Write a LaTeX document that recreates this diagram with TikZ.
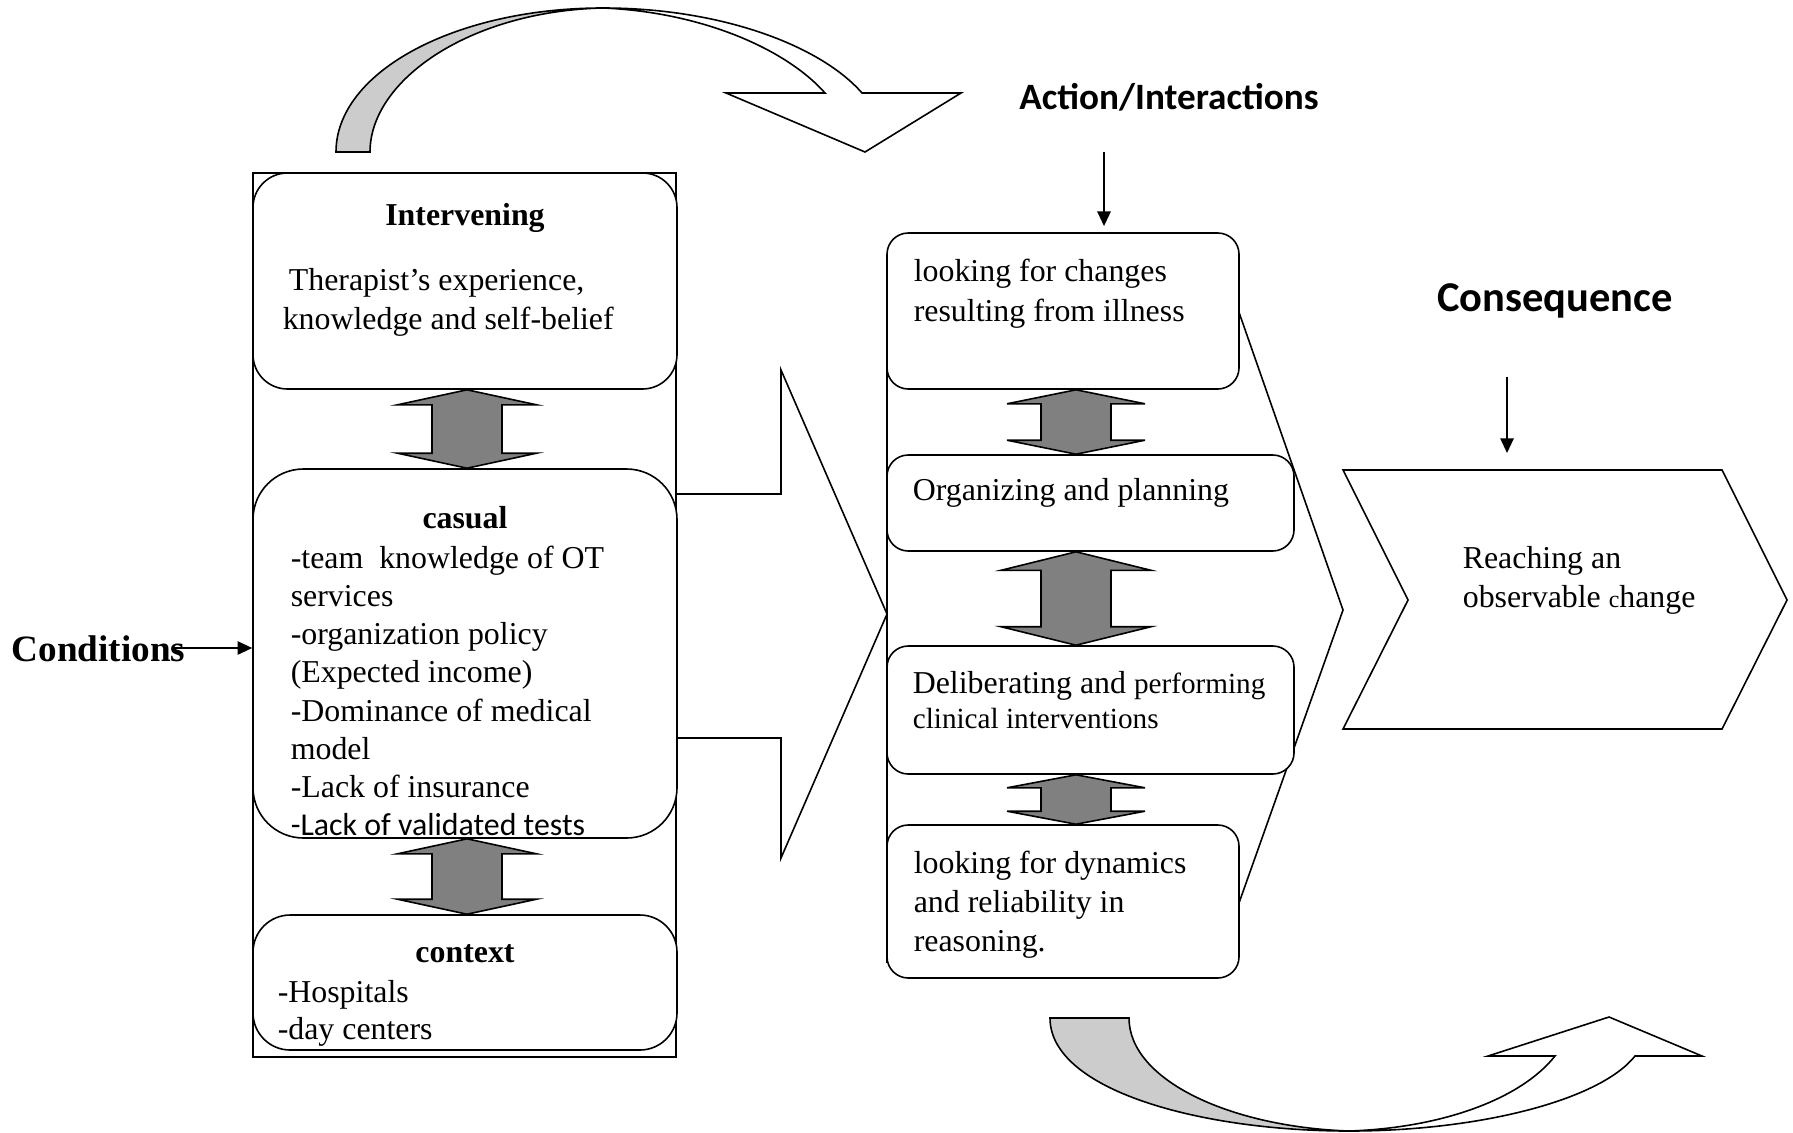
\documentclass[tikz,border=0pt]{standalone}
\usepackage{fontspec}
\setmainfont{Liberation Serif}
\newfontfamily\calibri{Carlito}
\usepackage{tikz}
\usetikzlibrary{arrows.meta,positioning,calc}

% one pixel of the layout
\newcommand{\px}{0.3766pt}
% grey two-headed block arrow between two stacked boxes
\newcommand{\twoway}[5]{%
  \draw[twoarrow] let \p1=(#2.south), \p2=(#3.north), \p3=(#1,0) in
    (\x3,\y1) -- ({\x3+#4*\px},{\y1-#5*\px}) -- ({\x3+35*\px},{\y1-#5*\px})
    -- ({\x3+35*\px},{\y2+#5*\px}) -- ({\x3+#4*\px},{\y2+#5*\px}) -- (\x3,\y2)
    -- ({\x3-#4*\px},{\y2+#5*\px}) -- ({\x3-35*\px},{\y2+#5*\px})
    -- ({\x3-35*\px},{\y1-#5*\px}) -- ({\x3-#4*\px},{\y1-#5*\px}) -- cycle;}

\begin{document}
\begin{tikzpicture}[x=0.3766pt, y=-0.3766pt, line width=0.6pt,
    stage/.style={draw, fill=white, rounded corners=#1, inner sep=0pt},
    note/.style={inner sep=0pt, align=left, anchor=north west},
    boxtitle/.style={inner sep=0pt, anchor=base, font=\fontsize{12}{14}\selectfont\bfseries},
    leadto/.style={-{Triangle[length=5.5pt,width=5pt]}, line width=0.7pt},
    twoarrow/.style={draw, fill=gray, line width=0.6pt},
    ribbon/.style={draw, line width=0.6pt}]
    \useasboundingbox (0,0) rectangle (1793,1132);

    % Curved sweeps
    \draw[ribbon, fill=gray!40] (336,152) .. controls (336,72) and (455,8) .. (603,8)
        .. controls (470,11) and (370,80) .. (370,152) -- cycle;
    \draw[ribbon, fill=white] (603,8) .. controls (720,8) and (820,45) .. (862,93)
        -- (961,93) -- (865,152) -- (726,93) -- (825,93)
        .. controls (785,48) and (700,12) .. (603,8) -- cycle;
    \draw[ribbon, fill=gray!40] (1050,1018) .. controls (1050,1090) and (1200,1131) .. (1349,1131)
        .. controls (1230,1127) and (1129,1080) .. (1129,1018) -- cycle;
    \draw[ribbon, fill=white] (1349,1131) .. controls (1480,1131) and (1600,1100) .. (1635,1056)
        -- (1702,1056) -- (1609,1017) -- (1488,1056) -- (1555,1056)
        .. controls (1520,1100) and (1440,1128) .. (1349,1131) -- cycle;

    % Conditions
    \draw[fill=white] (600,494) -- (781,494) -- (781,370) -- (887,614) -- (781,858) -- (781,738) -- (600,738);
    \node[draw, fill=white, inner sep=0pt, minimum width=423*\px, minimum height=884*\px] (condframe) at (464.5,615) {};
    \node[stage=13pt, minimum width=424*\px, minimum height=216*\px] (int) at (465,281) {};
    \node[stage=19pt, minimum width=424*\px, minimum height=369*\px] (cas) at (465,653.5) {};
    \node[stage=14pt, minimum width=424*\px, minimum height=135*\px] (ctx) at (465,982.5) {};

    \node[boxtitle] (tint) at (465,225) {Intervening};
    \node[note, font=\fontsize{12}{14.7}\selectfont] (xint) at (282,268)
        {\hspace{2.3pt}Therapist’s experience,\\knowledge and self-belief};
    \node[boxtitle] (tcas) at (465,528) {casual};
    \node[note, font=\fontsize{12}{14.4}\selectfont] (xcas) at (290,545)
        {-team\ \ knowledge of OT\\services\\-organization policy\\(Expected income)\\-Dominance of medical\\model\\-Lack of insurance\\{\calibri -Lack of validated tests}};
    \node[boxtitle] (tctx) at (465,962) {context};
    \node[note, font=\fontsize{12}{13.9}\selectfont] (xctx) at (277,980) {-Hospitals\\-day centers};

    \twoway{467}{int}{cas}{69.5}{15}
    \twoway{467}{cas}{ctx}{69.5}{15}

    \node[anchor=base west, inner sep=0pt, font=\fontsize{14}{16}\selectfont\bfseries] (cond) at (11,661) {Conditions};
    \coordinate (condstart) at (173,648);
    \draw[leadto] (condstart) -- (condstart -| condframe.west);

    % Action/Interactions
    \draw[fill=white] (887,258) -- (1220,258) -- (1343,610) -- (1218,962) -- (887,962) -- cycle;
    \node[stage=8pt, minimum width=352*\px, minimum height=156*\px] (a1) at (1063,311) {};
    \node[stage=8pt, minimum width=407*\px, minimum height=96*\px] (a2) at (1090.5,503) {};
    \node[stage=8pt, minimum width=407*\px, minimum height=128*\px] (a3) at (1090.5,710) {};
    \node[stage=8pt, minimum width=352*\px, minimum height=153*\px] (a4) at (1063,901.5) {};

    \node[note, font=\fontsize{12}{15}\selectfont] (xa1) at (913,258) {looking for changes\\resulting from illness};
    \node[anchor=base west, inner sep=0pt, font=\fontsize{12}{14}\selectfont] (xa2) at (912,500) {Organizing and planning};
    \node[note, font=\fontsize{12}{13.2}\selectfont] (xa3) at (912,671)
        {Deliberating and {\fontsize{11}{13.2}\selectfont performing}\\{\fontsize{11}{13.2}\selectfont clinical interventions}};
    \node[note, font=\fontsize{12}{14.7}\selectfont] (xa4) at (913,850) {looking for dynamics\\and reliability in\\reasoning.};

    \twoway{1076}{a1}{a2}{69}{14}
    \twoway{1076}{a2}{a3}{75}{18.5}
    \twoway{1076}{a3}{a4}{69}{13}

    \node[anchor=base, inner sep=0pt, font=\calibri\fontsize{14}{17}\selectfont\bfseries] (act) at (1169,110) {Action/Interactions};
    \coordinate (actstart) at (1104,152);
    \draw[leadto, shorten >=2.3pt] (actstart) -- (actstart |- a1.north);

    % Consequence
    \draw (1343,470) -- (1722,470) -- (1787,600) -- (1722,729) -- (1343,729) -- (1408,600) -- cycle;
    \node[note, font=\fontsize{12}{14.7}\selectfont] (xcons) at (1462,546)
        {Reaching an\\observable {\fontsize{9}{14.7}\selectfont c}hange};
    \node[anchor=base, inner sep=0pt, font=\calibri\fontsize{16}{19}\selectfont\bfseries] (cons) at (1555,311) {Consequence};
    \coordinate (consstart) at (1507,377);
    \coordinate (consend) at (1507,453);
    \draw[leadto] (consstart) -- (consend);
\end{tikzpicture}
\end{document}
